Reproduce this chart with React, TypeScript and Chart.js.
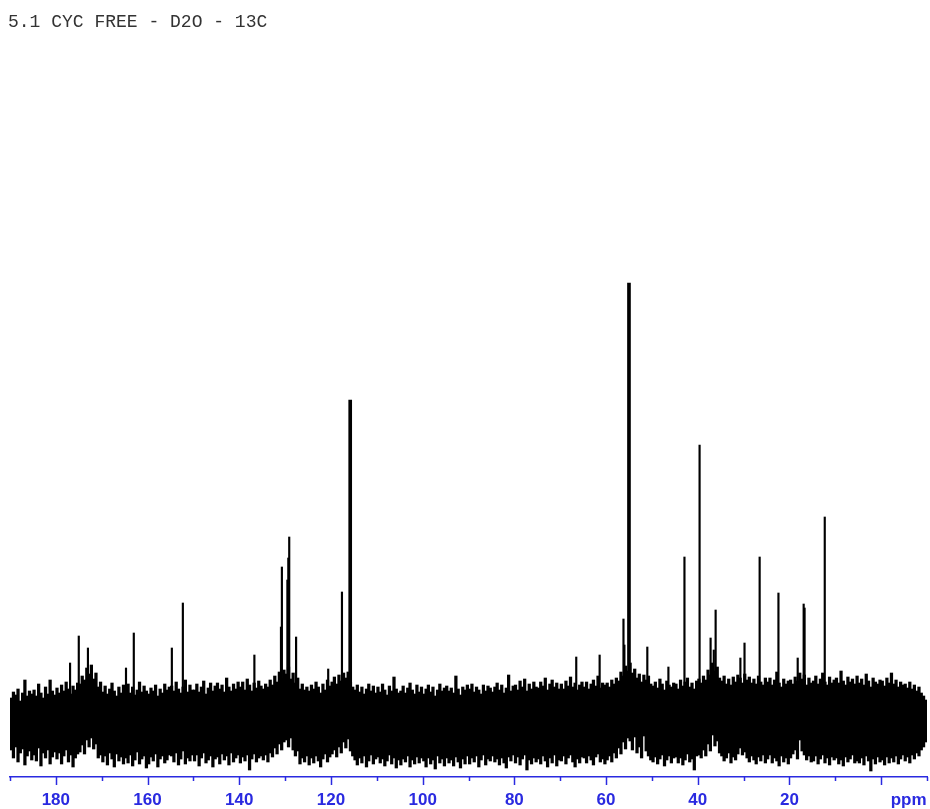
import { useEffect, useRef } from 'react';
import { Chart, registerables } from 'chart.js';

Chart.register(...registerables);

const TITLE = '5.1 CYC FREE - D2O - 13C';
const AXIS_UNIT = 'ppm';
const AXIS_MIN = -10;
const AXIS_MAX = 190;
const Y_MIN = -57;
const Y_MAX = 680;

// tick marks every 10 ppm, labels every 20 ppm
const tickValues = [190, 180, 170, 160, 150, 140, 130, 120, 110, 100, 90, 80, 70, 60, 50, 40, 30, 20, 10, 0, -10];
const labeledTicks = [180, 160, 140, 120, 100, 80, 60, 40, 20];
const longTicks = [180, 160, 140, 120, 100, 80, 60, 40, 20, 0];
const unitLabelPpm = -6;

// baseline noise envelope (max / min) in 0.5 ppm bins, starting at 189.75 ppm and going down
const noiseStartPpm = 189.75;
const noiseBinPpm = 0.5;
const noiseHi = [
  22, 28, 25, 31, 19, 27, 40, 24, 29, 26,
  30, 24, 36, 27, 22, 33, 26, 40, 29, 25,
  32, 27, 35, 29, 38, 31, 26, 34, 30, 37,
  36, 44, 40, 52, 46, 55, 41, 47, 33, 38,
  28, 34, 26, 31, 37, 29, 24, 33, 27, 35,
  31, 36, 27, 33, 25, 30, 38, 28, 34, 29,
  26, 32, 29, 35, 24, 31, 27, 36, 30, 33,
  34, 29, 38, 31, 27, 33, 40, 28, 35, 30,
  30, 36, 28, 33, 39, 26, 32, 37, 29, 34,
  37, 31, 35, 28, 42, 33, 29, 36, 31, 38,
  33, 38, 30, 41, 35, 29, 37, 32, 39, 34,
  31, 36, 33, 40, 35, 44, 38, 48, 42, 50,
  46, 53, 41, 47, 37, 42, 31, 36, 30, 33,
  29, 35, 31, 38, 33, 27, 36, 30, 40, 34,
  38, 43, 36, 45, 39, 47, 42, 48, 38, 33,
  30, 35, 28, 33, 26, 31, 36, 29, 34, 27,
  33, 28, 36, 30, 25, 34, 29, 43, 31, 27,
  29, 34, 27, 32, 37, 30, 26, 35, 28, 33,
  26, 31, 35, 28, 33, 24, 30, 36, 29, 32,
  34, 29, 32, 27, 44, 31, 25, 33, 30, 35,
  31, 36, 28, 33, 30, 26, 35, 29, 34, 32,
  28, 33, 37, 30, 35, 27, 32, 45, 29, 34,
  35, 30, 39, 33, 41, 29, 36, 31, 38, 33,
  32, 38, 34, 42, 30, 36, 40, 33, 37, 31,
  36, 31, 39, 34, 43, 33, 37, 30, 35, 38,
  33, 38, 31, 36, 40, 34, 44, 32, 37, 35,
  37, 33, 40, 36, 42, 39, 48, 44, 54, 49,
  57, 47, 51, 42, 46, 38, 45, 40, 44, 36,
  34, 38, 32, 41, 36, 30, 39, 35, 33, 37,
  36, 31, 40, 34, 38, 42, 33, 37, 31, 39,
  41, 37, 44, 40, 50, 45, 57, 49, 53, 42,
  39, 44, 36, 41, 35, 43, 38, 45, 42, 37,
  46, 40, 43, 37, 41, 36, 44, 38, 35, 42,
  38, 42, 35, 40, 48, 37, 33, 41, 36, 39,
  40, 36, 43, 39, 47, 41, 45, 35, 42, 37,
  39, 44, 36, 41, 47, 38, 35, 43, 37, 40,
  42, 37, 49, 39, 35, 43, 38, 41, 36, 44,
  37, 41, 35, 46, 39, 33, 42, 38, 36, 40,
  39, 34, 42, 37, 47, 36, 40, 33, 38, 35,
  36, 32, 38, 31, 35, 29, 33, 27, 24, 20,
];
const noiseLo = [
  -30, -38, -27, -42, -33, -29, -45, -36, -31, -40,
  -35, -41, -28, -46, -33, -38, -30, -44, -37, -32,
  -39, -33, -44, -36, -30, -42, -35, -47, -38, -34,
  -32, -25, -34, -20, -27, -18, -29, -24, -38, -35,
  -42, -36, -45, -33, -39, -47, -34, -41, -37, -44,
  -38, -43, -35, -46, -40, -32, -44, -39, -36, -48,
  -44, -37, -41, -34, -47, -39, -36, -43, -40, -35,
  -36, -42, -33, -45, -39, -31, -44, -38, -41, -35,
  -41, -35, -46, -38, -33, -43, -40, -36, -47, -39,
  -37, -44, -34, -40, -36, -45, -33, -42, -38, -35,
  -43, -37, -41, -35, -50, -39, -34, -42, -38, -36,
  -40, -35, -42, -33, -37, -28, -34, -24, -30, -22,
  -20, -27, -18, -30, -36, -31, -44, -38, -42, -36,
  -45, -38, -43, -36, -41, -47, -39, -34, -42, -37,
  -34, -30, -37, -27, -33, -22, -28, -19, -31, -36,
  -40, -45, -38, -43, -36, -47, -41, -35, -44, -39,
  -37, -43, -39, -46, -41, -35, -44, -38, -48, -40,
  -45, -39, -42, -36, -47, -40, -44, -37, -43, -38,
  -41, -47, -38, -44, -40, -49, -36, -43, -39, -46,
  -38, -43, -40, -46, -37, -42, -48, -39, -44, -36,
  -44, -38, -42, -36, -47, -40, -35, -45, -39, -41,
  -36, -42, -39, -45, -38, -43, -48, -37, -41, -35,
  -43, -37, -45, -39, -35, -50, -40, -44, -38, -42,
  -39, -44, -36, -41, -47, -38, -43, -35, -46, -40,
  -41, -36, -44, -38, -35, -42, -47, -39, -43, -37,
  -38, -43, -36, -40, -45, -37, -34, -42, -39, -44,
  -40, -36, -42, -33, -38, -28, -34, -22, -29, -18,
  -21, -30, -17, -33, -27, -38, -16, -31, -36, -40,
  -42, -37, -44, -39, -35, -46, -40, -36, -43, -38,
  -37, -43, -38, -45, -40, -34, -42, -39, -50, -36,
  -35, -38, -30, -36, -24, -31, -15, -26, -21, -33,
  -36, -41, -38, -33, -43, -37, -40, -34, -28, -35,
  -32, -38, -42, -36, -40, -44, -37, -41, -35, -43,
  -39, -35, -43, -38, -41, -46, -36, -42, -38, -44,
  -38, -34, -30, -39, -20, -31, -35, -40, -36, -42,
  -41, -36, -44, -39, -35, -43, -38, -45, -37, -40,
  -38, -44, -40, -46, -37, -42, -39, -35, -43, -41,
  -43, -38, -45, -36, -41, -51, -39, -44, -37, -42,
  -40, -45, -37, -43, -38, -42, -36, -44, -39, -35,
  -41, -37, -43, -35, -39, -33, -36, -30, -27, -22,
];

// resolved signals (ppm, height)
const strongPeakPpm = [55.0, 115.8];
const strongPeakHeight = [437, 320];
const peakPpm = [
  39.6, 12.3, 42.9, 26.5, 129.1, 129.3, 129.5, 130.7, 130.9, 22.4,
  152.3, 117.6, 16.9, 16.7, 36.1, 56.2, 56.0, 163.0, 175.0, 127.6,
  29.8, 37.2, 36.5, 51.0, 154.7, 173.0, 136.7, 61.4, 66.5, 176.9,
  164.7, 120.6, 46.4, 30.7, 18.2,
];
const peakHeight = [
  275, 203, 163, 163, 183, 162, 140, 153, 93, 127,
  117, 128, 116, 112, 110, 101, 75, 87, 84, 83,
  77, 82, 70, 73, 72, 72, 65, 65, 63, 57,
  52, 51, 53, 62, 62,
];

const BLUE = '#2a2ae0';
const INK = '#000000';

export default function App() {
  const ref = useRef<HTMLCanvasElement | null>(null);

  useEffect(() => {
    if (!ref.current) return;
    const noise = noiseHi.map((hi, i) => ({ x: noiseStartPpm - i * noiseBinPpm, y: [noiseLo[i], hi] }));
    const strong = strongPeakPpm.map((p, i) => ({ x: p, y: strongPeakHeight[i] }));
    const weak = peakPpm.map((p, i) => ({ x: p, y: peakHeight[i] }));

    const decor = {
      id: 'decor',
      afterDraw(chart: any) {
        const ctx = chart.ctx;
        const xs = chart.scales.x;
        const bottom = chart.chartArea.bottom;
        ctx.save();
        ctx.strokeStyle = BLUE;
        ctx.lineWidth = 1.5;
        for (const v of tickValues) {
          const px = Math.round(xs.getPixelForValue(v)) + 0.5;
          const len = longTicks.includes(v) ? 8 : 4;
          ctx.beginPath();
          ctx.moveTo(px, bottom);
          ctx.lineTo(px, bottom + len);
          ctx.stroke();
        }
        ctx.fillStyle = BLUE;
        ctx.font = 'bold 17px "Liberation Sans", Arial, sans-serif';
        ctx.textAlign = 'center';
        ctx.textBaseline = 'middle';
        ctx.fillText(AXIS_UNIT, xs.getPixelForValue(unitLabelPpm), bottom + 23);
        ctx.font = '18px "Liberation Mono", monospace';
        ctx.fillStyle = '#333333';
        ctx.textAlign = 'left';
        ctx.textBaseline = 'alphabetic';
        ctx.fillText(TITLE, 8, 27);
        ctx.restore();
      },
    };

    const chart = new Chart(ref.current, {
      type: 'bar',
      data: {
        datasets: [
          {
            type: 'bar',
            data: noise,
            backgroundColor: INK,
            barThickness: 2.6,
            grouped: false,
          } as any,
          {
            type: 'bar',
            data: strong,
            backgroundColor: INK,
            barThickness: 3,
            grouped: false,
          } as any,
          {
            type: 'bar',
            data: weak,
            backgroundColor: INK,
            barThickness: 1.5,
            grouped: false,
          } as any,
        ],
      },
      options: {
        animation: false,
        responsive: false,
        maintainAspectRatio: false,
        layout: { padding: { left: 10, right: 3, top: 40, bottom: 0 } },
        plugins: { legend: { display: false }, tooltip: { enabled: false }, title: { display: false } },
        scales: {
          x: {
            type: 'linear',
            min: AXIS_MIN,
            max: AXIS_MAX,
            reverse: true,
            offset: false,
            afterBuildTicks: (scale: any) => {
              scale.ticks = tickValues.map((v) => ({ value: v }));
            },
            ticks: {
              autoSkip: false,
              maxRotation: 0,
              padding: 0,
              color: BLUE,
              font: { family: '"Liberation Sans", Arial, sans-serif', size: 17, weight: 'bold', lineHeight: 18 / 17 },
              callback: (v: any) => (labeledTicks.includes(Number(v)) ? String(v) : ''),
            },
            grid: { drawOnChartArea: false, drawTicks: true, tickLength: 14, tickColor: 'transparent' },
            border: { display: true, color: BLUE, width: 1.5 },
          },
          y: {
            type: 'linear',
            display: false,
            min: Y_MIN,
            max: Y_MAX,
          },
        },
      },
      plugins: [decor],
    } as any);
    return () => chart.destroy();
  }, []);

  return (
    <div style={{ position: 'absolute', left: 0, top: 0, width: 930, height: 809, background: '#fff' }}>
      <canvas ref={ref} width={930} height={809} style={{ display: 'block' }} />
    </div>
  );
}
